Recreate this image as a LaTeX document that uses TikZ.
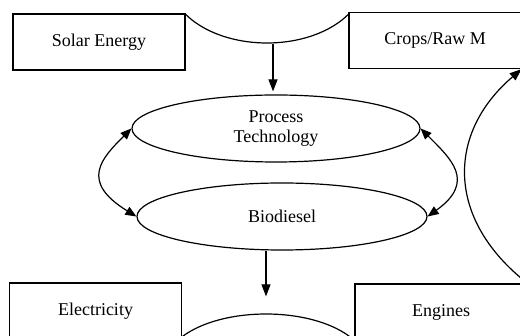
\documentclass[tikz,border=0pt]{standalone}
\usepackage{fontspec}
\setmainfont{Liberation Serif}
\usetikzlibrary{arrows.meta,shapes.geometric}
\tikzset{
  txt/.style={font=\fontsize{18}{19.5}\selectfont},
  box/.style={draw, fill=white, minimum width=172pt, minimum height=56pt, inner sep=0pt, txt},
  oval/.style={draw, ellipse, minimum width=288pt, minimum height=67pt, inner sep=0pt, align=center, txt},
  partoval/.style={draw, ellipse, inner sep=0pt},
  arr/.style={-{Triangle[length=12pt,width=9pt]}},
  dbl/.style={{Triangle[length=11pt,width=9pt]}-{Triangle[length=11pt,width=9pt]}}
}
\begin{document}
\begin{tikzpicture}[x=1pt,y=-1pt,line width=1.2pt]
\useasboundingbox (0,0) rectangle (520,336);
\clip (0,0) rectangle (520,336);
% partial ellipses at top and bottom
\begin{scope}
  \clip (0,14) rectangle (520,60);
  \node[partoval, minimum width=194pt, minimum height=126pt] (src) at (267,-20) {};
\end{scope}
\node[partoval, minimum width=200pt, minimum height=100pt] (sink) at (266,364) {};
% main ovals
\node[oval] (proc) at (276,128.5) {Process\\Technology};
\node[oval, minimum width=290pt] (bio) at (282,216.5) {Biodiesel};
% boxes
\node[box] (solar) at (99,42) {Solar Energy};
\node[box] (crops) at (435,40.5) {Crops/Raw M};
\node[box] (elec) at (95.5,311) {Electricity};
\node[box] (eng) at (441,312) {Engines};
% connectors
\coordinate (a1) at ([xshift=6pt]src.south);
\draw[arr, shorten >=3pt] (a1) -- (a1 |- proc.north);
\draw[arr, shorten >=17pt] (bio.south -| sink.north) -- (sink.north);
\draw[dbl] (proc.west) .. controls +(-30,30) and +(-57,-35) .. (bio.west);
\draw[dbl] (proc.east) .. controls +(30,30) and +(49,-35) .. (bio.east);
\draw[arr] (eng.north east) .. controls +(-82,-64) and +(-75,64) .. (crops.south east);
\end{tikzpicture}
\end{document}
